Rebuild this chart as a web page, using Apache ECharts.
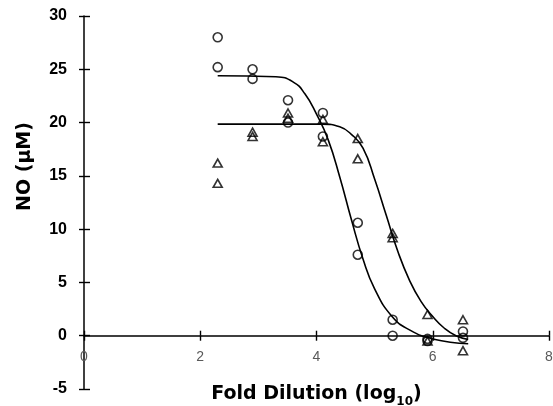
<!DOCTYPE html>
<html>
<head>
<meta charset="utf-8">
<script src="https://cdn.jsdelivr.net/npm/echarts@6/dist/echarts.min.js"></script>
<style>html,body{margin:0;padding:0;background:#fff;}#c{width:553px;height:406px;}</style>
</head>
<body>
<div id="c"></div>
<script>
// Fold dilution (log10) of each sample
const doseLog = [2.30, 2.90, 3.51, 4.11, 4.71, 5.31, 5.91, 6.52];
// Circle replicates (µM)
const circleA = [28.0, 25.0, 22.1, 20.9, 10.6, 1.5, -0.3, 0.4];
const circleB = [25.2, 24.1, 20.0, 18.7, 7.6, 0.0, -0.5, -0.2];
// Triangle replicates (µM)
const triA = [16.2, 19.1, 20.9, 20.3, 18.5, 9.6, 2.0, 1.5];
const triB = [14.3, 18.7, 20.4, 18.2, 16.6, 9.2, -0.5, -1.4];
// Fitted curves
const fitCircleX = [2.30, 3.30, 3.60, 3.80, 4.00, 4.20, 4.40, 4.60, 4.80, 5.00, 5.30, 5.60, 6.00, 6.61];
const fitCircleY = [24.4, 24.3, 23.8, 22.7, 20.8, 18.4, 14.9, 10.9, 7.2, 4.4, 1.8, 0.55, -0.3, -0.75];
const fitTriX = [2.30, 3.50, 4.10, 4.40, 4.60, 4.80, 5.00, 5.20, 5.40, 5.60, 5.80, 6.00, 6.20, 6.40, 6.61];
const fitTriY = [19.85, 19.85, 19.85, 19.6, 18.9, 17.6, 14.7, 11.3, 7.9, 5.2, 3.2, 1.8, 0.7, 0.0, -0.35];
// Axis ticks
const xTicks = {min: 0, max: 8, step: 2};
const yTicks = {min: -5, max: 30, step: 5};

const pairs = (xs, ys) => xs.map((x, i) => [x, ys[i]]);
const F = 'Liberation Sans, Arial, sans-serif';

const gridTop = 16, gridBottom = 17, H = 406;
const plotH = H - gridTop - gridBottom;
// shift the x axis up to the y = 0 line
const xOffset = -plotH * (0 - yTicks.min) / (yTicks.max - yTicks.min);

const chart = echarts.init(document.getElementById('c'), null, {renderer: 'canvas'});
const markerStyle = {color: 'rgba(0,0,0,0)', borderColor: '#000', borderWidth: 1.6};
chart.setOption({
  animation: false,
  backgroundColor: '#fff',
  grid: {left: 84, right: 4, top: gridTop, bottom: gridBottom, outerBoundsMode: 'none', containLabel: false},
  xAxis: [{
    type: 'value', min: xTicks.min, max: xTicks.max, interval: xTicks.step,
    position: 'bottom', offset: xOffset,
    axisLine: {onZero: false, lineStyle: {color: '#000', width: 1.5}},
    axisTick: {inside: false, length: 5, lineStyle: {color: '#000', width: 1.4}},
    axisLabel: {margin: 14, color: '#595959', fontSize: 14, fontFamily: F},
    splitLine: {show: false},
    name: '{a|Fold Dilution (log}{s|10}{a|)}',
    nameLocation: 'middle', nameGap: 43,
    nameTextStyle: {
      rich: {
        a: {fontFamily: 'DejaVu Sans', fontWeight: 'bold', fontSize: 19, color: '#000', lineHeight: 30},
        s: {fontFamily: 'DejaVu Sans', fontWeight: 'bold', fontSize: 12, color: '#000', padding: [16, 0, 0, 0]}
      }
    }
  }, {
    type: 'value', min: xTicks.min, max: xTicks.max, interval: xTicks.step,
    position: 'bottom', offset: xOffset,
    axisLine: {show: false, onZero: false},
    axisTick: {inside: true, length: 5, lineStyle: {color: '#000', width: 1.4}},
    axisLabel: {show: false},
    splitLine: {show: false}
  }],
  yAxis: [{
    type: 'value', min: yTicks.min, max: yTicks.max, interval: yTicks.step,
    position: 'left',
    axisLine: {onZero: false, lineStyle: {color: '#000', width: 1.5}},
    axisTick: {inside: false, length: 5, lineStyle: {color: '#000', width: 1.4}},
    axisLabel: {margin: 17, color: '#000', fontSize: 16, fontWeight: 'bold', fontFamily: F},
    splitLine: {show: false},
    name: 'NO (µM)', nameLocation: 'middle', nameGap: 49,
    nameTextStyle: {fontFamily: 'DejaVu Sans', fontWeight: 'bold', fontSize: 19, color: '#000', padding: [0, 0, 0, 72]}
  }, {
    type: 'value', min: yTicks.min, max: yTicks.max, interval: yTicks.step,
    position: 'left',
    axisLine: {show: false, onZero: false},
    axisTick: {inside: true, length: 6, lineStyle: {color: '#000', width: 1.4}},
    axisLabel: {show: false},
    splitLine: {show: false}
  }],
  series: [
    {type: 'line', data: pairs(fitCircleX, fitCircleY), smooth: 0.5, showSymbol: false, symbol: 'none',
     lineStyle: {color: '#000', width: 1.6}, z: 2},
    {type: 'line', data: pairs(fitTriX, fitTriY), smooth: 0.5, showSymbol: false, symbol: 'none',
     lineStyle: {color: '#000', width: 1.6}, z: 2},
    {type: 'scatter', data: pairs(doseLog, circleA).concat(pairs(doseLog, circleB)), symbol: 'circle', symbolSize: 9,
     itemStyle: markerStyle, z: 3},
    {type: 'scatter', data: pairs(doseLog, triA).concat(pairs(doseLog, triB)), symbol: 'triangle', symbolSize: [9, 8],
     itemStyle: markerStyle, z: 3}
  ]
});
</script>
</body>
</html>
